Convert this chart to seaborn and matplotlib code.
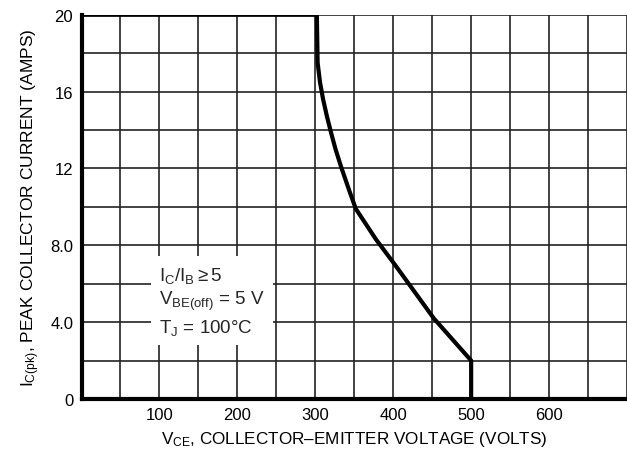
import matplotlib
matplotlib.use("Agg")
import matplotlib.pyplot as plt
import numpy as np
import pandas as pd
import seaborn as sns

# Reverse-bias safe operating area curve
vce = [0, 302, 303, 306, 310, 315, 320, 326, 333, 344, 352, 365, 378, 402, 452, 500, 500]
ic_pk = [20, 20, 17.5, 16.5, 15.6, 14.7, 13.9, 13.0, 12.1, 10.8, 9.9, 9.1, 8.3, 7.0, 4.2, 2.0, 0]

x_ticks = [50 * i for i in range(15)]
x_labels = ["" if v % 100 or v in (0, 700) else str(v) for v in x_ticks]
y_ticks = [2 * i for i in range(11)]
y_labels = {0: "0", 4: "4.0", 8: "8.0", 12: "12", 16: "16", 20: "20"}

conditions = ["$\\mathregular{I_C/I_B \\geq 5}$",
              "$\\mathregular{V_{BE(off)}}$ = 5 V",
              "$\\mathregular{T_J}$ = 100°C"]

sns.set_theme(style="white")
plt.rcParams["font.family"] = ["Liberation Sans", "DejaVu Sans"]
plt.rcParams["mathtext.fontset"] = "custom"
plt.rcParams["mathtext.rm"] = "Liberation Sans"
plt.rcParams["mathtext.it"] = "Liberation Sans"

fig = plt.figure(figsize=(6.27, 4.64), dpi=100)
ax = fig.add_axes([0.130, 0.138, 0.870, 0.828])

df = pd.DataFrame({"vce": vce, "ic": ic_pk})
sns.lineplot(data=df, x="vce", y="ic", sort=False, estimator=None,
             color="black", linewidth=3, ax=ax, zorder=5)

ax.set_xlim(0, 695)
ax.set_ylim(0, 20)
ax.set_xticks(x_ticks)
ax.set_xticklabels(x_labels)
ax.set_yticks(y_ticks)
ax.set_yticklabels([y_labels.get(v, "") for v in y_ticks])
ax.tick_params(length=0, labelsize=12, colors="black", pad=6)
ax.grid(True, color="#222222", linewidth=1.2)

for side in ["top", "right"]:
    ax.spines[side].set_visible(False)
for side in ["left", "bottom"]:
    ax.spines[side].set_linewidth(3)
    ax.spines[side].set_color("black")

ax.set_xlabel("$\\mathregular{V_{CE}}$, COLLECTOR\u2013EMITTER VOLTAGE (VOLTS)",
              fontsize=12.3, color="black", labelpad=5)
ax.set_ylabel("$\\mathregular{I_{C(pk)}}$, PEAK COLLECTOR CURRENT (AMPS)",
              fontsize=12.5, color="black", labelpad=6)

ax.text(100, 7.0, "\n".join(conditions), fontsize=13.5, va="top", ha="left",
        linespacing=1.3, zorder=6,
        bbox=dict(facecolor="white", edgecolor="none", pad=6))

fig.savefig("out.png", dpi=100)
